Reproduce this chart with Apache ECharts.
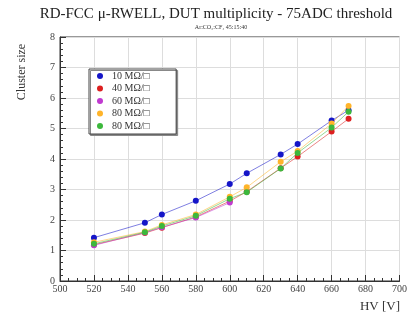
<!DOCTYPE html>
<html>
<head>
<meta charset="utf-8">
<script src="https://cdn.jsdelivr.net/npm/echarts@6/dist/echarts.min.js"></script>
<style>html,body{margin:0;padding:0;background:#fff}#c{width:410px;height:314px}</style>
</head>
<body>
<div id="c"></div>
<script>
// Data
const hvBlue  = [520, 550, 560, 580, 600, 610, 630, 640, 660, 670];
const hvFull  = [520, 550, 560, 580, 600, 610, 630, 640, 660, 670];
const hvMag   = [520, 550, 560, 580, 600];
const seriesNames = ["10 MΩ/□", "40 MΩ/□", "60 MΩ/□", "80 MΩ/□", "80 MΩ/□ "];
const blue10   = [1.42, 1.91, 2.18, 2.63, 3.18, 3.53, 4.15, 4.49, 5.26, 5.60];
const red40    = [1.19, 1.57, 1.75, 2.10, 2.62, 2.93, 3.70, 4.08, 4.90, 5.32];
const mag60    = [1.17, 1.59, 1.76, 2.08, 2.57];
const orange80 = [1.27, 1.62, 1.84, 2.18, 2.76, 3.07, 3.91, 4.26, 5.16, 5.74];
const green80  = [1.22, 1.60, 1.80, 2.14, 2.70, 2.91, 3.69, 4.20, 5.03, 5.55];
const colors   = ["#1515c8", "#dd2020", "#c03ad0", "#ffb42a", "#3cb83c"];
const xTicks = [500, 520, 540, 560, 580, 600, 620, 640, 660, 680, 700];
const yTicks = [0, 1, 2, 3, 4, 5, 6, 7, 8];

const xsList = [hvBlue, hvFull, hvMag, hvFull, hvFull];
const ysList = [blue10, red40, mag60, orange80, green80];

const chart = echarts.init(document.getElementById('c'));
const serif = '"Liberation Serif", "DejaVu Serif", serif';

const series = seriesNames.map((n, i) => ({
  name: n,
  type: 'line',
  data: xsList[i].map((x, j) => [x, ysList[i][j]]),
  symbol: 'circle',
  symbolSize: 6,
  itemStyle: { color: colors[i] },
  lineStyle: { color: colors[i], width: 1, opacity: 0.55 },
  emphasis: { disabled: true },
  z: 3 + i
}));

chart.setOption({
  animation: false,
  backgroundColor: '#fff',
  grid: { left: 60, right: 10, top: 37, bottom: 33, show: true, borderColor: '#333', borderWidth: 1 },
  graphic: [
    { type: 'text', x: 216, y: 14, style: { text: 'RD-FCC μ-RWELL, DUT multiplicity - 75ADC threshold', font: '15px ' + serif, fill: '#222', textAlign: 'center', textVerticalAlign: 'middle' } },
    { type: 'text', x: 221, y: 27, style: { text: 'Ar:CO₂:CF₄ 45:15:40', font: '6px ' + serif, fill: '#333', textAlign: 'center', textVerticalAlign: 'middle' } },
    { type: 'text', x: 22, y: 72, rotation: Math.PI / 2, style: { text: 'Cluster size', font: '12px ' + serif, fill: '#333', textAlign: 'center', textVerticalAlign: 'middle' } },
    { type: 'text', x: 400, y: 307, style: { text: 'HV [V]', font: '13px ' + serif, fill: '#333', textAlign: 'right', textVerticalAlign: 'middle' } }
  ],
  legend: {
    orient: 'vertical',
    left: 89, top: 69,
    data: seriesNames,
    icon: 'circle',
    itemWidth: 6, itemHeight: 6,
    itemGap: 2.5,
    padding: [2, 24, 3, 8],
    borderColor: '#444', borderWidth: 1,
    backgroundColor: '#fff',
    shadowColor: '#888', shadowOffsetX: 1.5, shadowOffsetY: 1.5, shadowBlur: 0,
    borderRadius: 0,
    textStyle: { fontFamily: serif, fontSize: 10, color: '#333', padding: [0, 0, 0, 4] },
    selectedMode: false
  },
  xAxis: {
    type: 'value', min: xTicks[0], max: xTicks[xTicks.length - 1], interval: 20,
    axisLine: { lineStyle: { color: '#333' } },
    axisTick: { inside: true, length: 6, lineStyle: { color: '#333' } },
    minorTick: { show: true, splitNumber: 4, length: 3, lineStyle: { color: '#333' } },
    axisLabel: { fontFamily: serif, fontSize: 10, color: '#444', margin: 3 },
    splitLine: { show: true, lineStyle: { color: '#dddddd', width: 1 } }
  },
  yAxis: {
    type: 'value', min: yTicks[0], max: yTicks[yTicks.length - 1], interval: 1,
    axisLine: { show: true, lineStyle: { color: '#333' } },
    axisTick: { show: true, inside: true, length: 6, lineStyle: { color: '#333' } },
    minorTick: { show: true, splitNumber: 5, length: 3, lineStyle: { color: '#333' } },
    axisLabel: { fontFamily: serif, fontSize: 10, color: '#444', margin: 5 },
    splitLine: { show: true, lineStyle: { color: '#dddddd', width: 1 } }
  },
  series: series
});
</script>
</body>
</html>
